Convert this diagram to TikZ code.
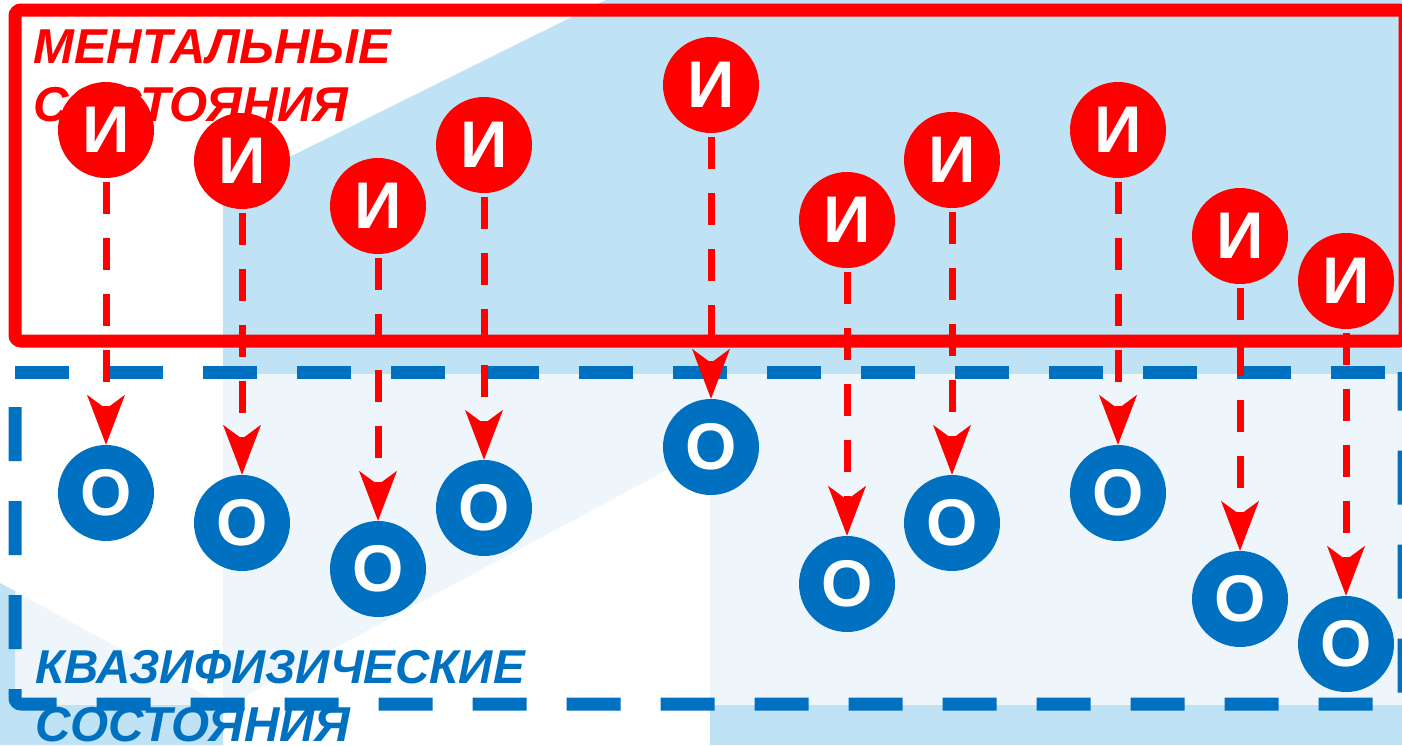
\documentclass[tikz,border=0pt]{standalone}
\usepackage{fontspec}
\setmainfont{Liberation Sans}
\usetikzlibrary{arrows.meta}
\definecolor{redI}{HTML}{FF0000}
\definecolor{blueO}{HTML}{0070C0}
\definecolor{wallA}{HTML}{BFE2F4}
\definecolor{wallB}{HTML}{EEF6FC}
\tikzset{
    ment/.style={circle, fill=redI, text=white, minimum size=96pt, inner sep=0pt,
        font=\fontsize{66}{66}\selectfont\bfseries},
    kvaz/.style={circle, fill=blueO, text=white, minimum size=96pt, inner sep=0pt,
        font=\fontsize{66}{66}\selectfont\bfseries},
    link/.style={draw=redI, line width=7pt, dash pattern=on 32pt off 24pt, shorten <=4pt,
        -{Stealth[length=50pt, width=38pt, inset=14pt, line width=0pt]}},
    caption/.style={anchor=base west, inner sep=0pt,
        font=\fontsize{49}{58}\selectfont\bfseries\itshape},
    frame/.style={line width=13pt}
}

\begin{document}
\begin{tikzpicture}[x=1pt, y=-1pt]
                \useasboundingbox (0,0) rectangle (1402,745);
                \fill[wallA] (606,0) -- (1410,0) -- (1410,374) -- (223,374) -- (223,190) -- cycle;
                \fill[wallB] (223,374) -- (1410,374) -- (1410,705) -- (710,705) -- (710,447) -- (223,708) -- cycle;
                \fill[wallB] (0,583) -- (223,705) -- (0,705) -- cycle;
                \fill[wallA] (0,583) -- (15,591) -- (15,705) -- (223,705) -- (223,745) -- (0,745) -- cycle;
                \fill[wallA] (710,705) rectangle (1410,745);
                \draw[frame, redI, rounded corners=6pt] (15,10) rectangle (1405,341);
                \draw[frame, blueO, dash pattern=on 54pt off 40pt] (15,372) -- (1410,372);
                \draw[frame, blueO, dash pattern=on 54pt off 40pt, dash phase=59pt, rounded corners=6pt]
                    (15,372) -- (15,704) -- (1404,704) -- (1404,372);
                \node[caption, text=redI] (ment1) at (33,63) {МЕНТАЛЬНЫЕ};
                \node[caption, text=redI] (ment2) at (33,121) {СОСТОЯНИЯ};
                \node[caption, text=blueO, font=\fontsize{47.5}{58}\selectfont\bfseries\itshape]
                    (kvaz1) at (35,683) {КВАЗИФИЗИЧЕСКИЕ};
                \node[caption, text=blueO] (kvaz2) at (35,741) {СОСТОЯНИЯ};
                \node[ment] (i1) at (106,130) {И};
                \node[ment] (i2) at (242,161) {И};
                \node[ment] (i3) at (378,206) {И};
                \node[ment] (i4) at (484,145) {И};
                \node[ment] (i5) at (711,85) {И};
                \node[ment] (i6) at (847,220) {И};
                \node[ment] (i7) at (952,160) {И};
                \node[ment] (i8) at (1118,130) {И};
                \node[ment] (i9) at (1240,236) {И};
                \node[ment] (i10) at (1346,281) {И};
                \node[kvaz] (o1) at (106,493) {О};
                \node[kvaz] (o2) at (242,523) {О};
                \node[kvaz] (o3) at (378,569) {О};
                \node[kvaz] (o4) at (484,508) {О};
                \node[kvaz] (o5) at (711,447) {О};
                \node[kvaz] (o6) at (847,584) {О};
                \node[kvaz] (o7) at (952,523) {О};
                \node[kvaz] (o8) at (1118,493) {О};
                \node[kvaz] (o9) at (1240,599) {О};
                \node[kvaz] (o10) at (1346,644) {О};
                \draw[link] (i1) -- (o1);
                \draw[link] (i2) -- (o2);
                \draw[link] (i3) -- (o3);
                \draw[link] (i4) -- (o4);
                \draw[link] (i5) -- (o5);
                \draw[link] (i6) -- (o6);
                \draw[link] (i7) -- (o7);
                \draw[link] (i8) -- (o8);
                \draw[link] (i9) -- (o9);
                \draw[link] (i10) -- (o10);
\end{tikzpicture}
\end{document}
